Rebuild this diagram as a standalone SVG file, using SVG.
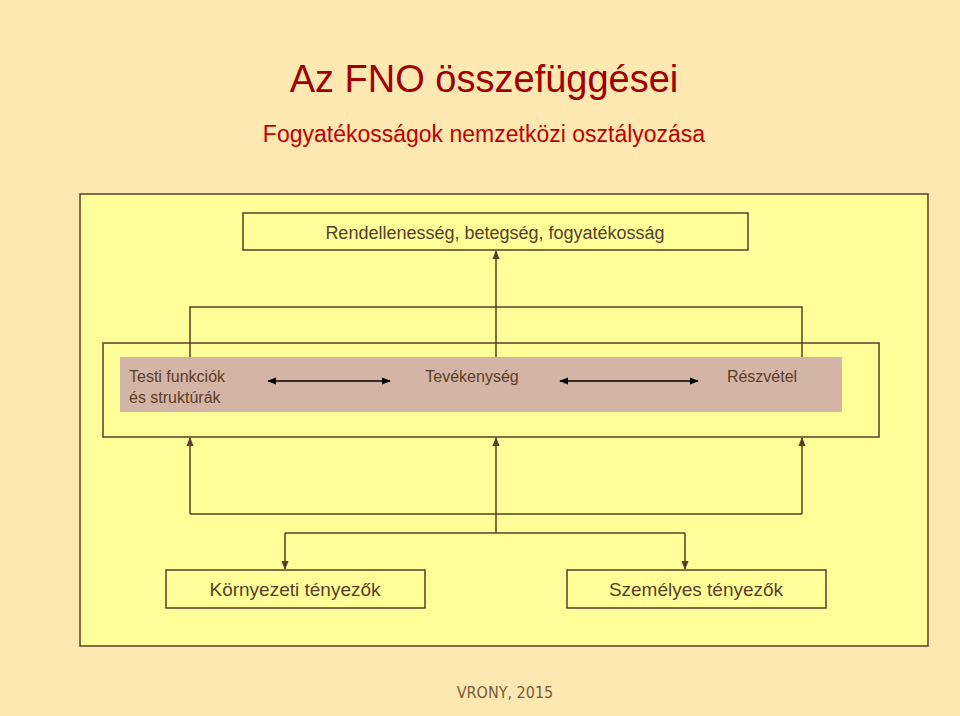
<svg xmlns="http://www.w3.org/2000/svg" width="960" height="716" viewBox="0 0 960 716">
<defs>
<style>
.t{font-family:"Liberation Sans",Arial,sans-serif;fill:#5a3e28}
.ln{stroke:#5a3e28;stroke-width:1.5;fill:none}
.bx{fill:#FFFF99;stroke:#5a3e28;stroke-width:1.5}
</style>
<marker id="a" viewBox="0 0 10 10" refX="9" refY="5" markerWidth="6" markerHeight="6" orient="auto-start-reverse"><path d="M0,1 L10,5 L0,9 z" fill="#5a3e28"/></marker>
<marker id="b" viewBox="0 0 10 10" refX="9" refY="5" markerWidth="6" markerHeight="6" orient="auto-start-reverse"><path d="M0,1 L10,5 L0,9 z" fill="#000"/></marker>
</defs>
<rect width="960" height="716" fill="#FCE8B0"/>
<rect x="80" y="194" width="848" height="452" fill="#FFFF99" stroke="#5a3e28" stroke-width="1.5"/>
<text x="484" y="92" text-anchor="middle" font-family="Liberation Sans,Arial,sans-serif" font-size="38" fill="#A00000">Az FNO összefüggései</text>
<text x="484" y="142" text-anchor="middle" font-family="Liberation Sans,Arial,sans-serif" font-size="23" fill="#C00000">Fogyatékosságok nemzetközi osztályozása</text>
<g id="inner"><rect class="bx" x="103" y="343" width="776" height="94"/><rect x="120" y="357" width="722" height="55" fill="#D4B4A4"/></g>
<g id="connectors">
<path class="ln" d="M496,357 V251" marker-end="url(#a)"/>
<path class="ln" d="M190,357 V307 H802 V357"/>
<path class="ln" d="M190,514 V438" marker-end="url(#a)"/>
<path class="ln" d="M802,514 V438" marker-end="url(#a)"/>
<path class="ln" d="M496,533 V438" marker-end="url(#a)"/>
<path class="ln" d="M190,514 H802"/>
<path class="ln" d="M285,533 H685"/>
<path class="ln" d="M285,533 V569" marker-end="url(#a)"/>
<path class="ln" d="M685,533 V569" marker-end="url(#a)"/>
<path d="M268,381 H390" stroke="#000" stroke-width="1.5" marker-start="url(#b)" marker-end="url(#b)"/>
<path d="M560,381 H698" stroke="#000" stroke-width="1.5" marker-start="url(#b)" marker-end="url(#b)"/>
</g>
<g id="top"><rect class="bx" x="243" y="213" width="505" height="37"/><text class="t" x="495" y="239" text-anchor="middle" font-size="18">Rendellenesség, betegség, fogyatékosság</text></g>
<g id="testi"><text class="t" x="129" y="382" font-size="16">Testi funkciók</text><text class="t" x="129" y="403" font-size="16">és struktúrák</text></g>
<g id="tev"><text class="t" x="472" y="382" text-anchor="middle" font-size="16">Tevékenység</text></g>
<g id="resz"><text class="t" x="762" y="382" text-anchor="middle" font-size="16">Részvétel</text></g>
<g id="korny"><rect class="bx" x="166" y="570" width="259" height="38"/><text class="t" x="295" y="596" text-anchor="middle" font-size="19">Környezeti tényezők</text></g>
<g id="szem"><rect class="bx" x="567" y="570" width="259" height="38"/><text class="t" x="696" y="596" text-anchor="middle" font-size="19">Személyes tényezők</text></g>
<text x="505" y="698" text-anchor="middle" font-family="DejaVu Sans Condensed,DejaVu Sans,sans-serif" font-stretch="condensed" font-size="16" fill="#7a5a3a">VRONY, 2015</text>
</svg>
